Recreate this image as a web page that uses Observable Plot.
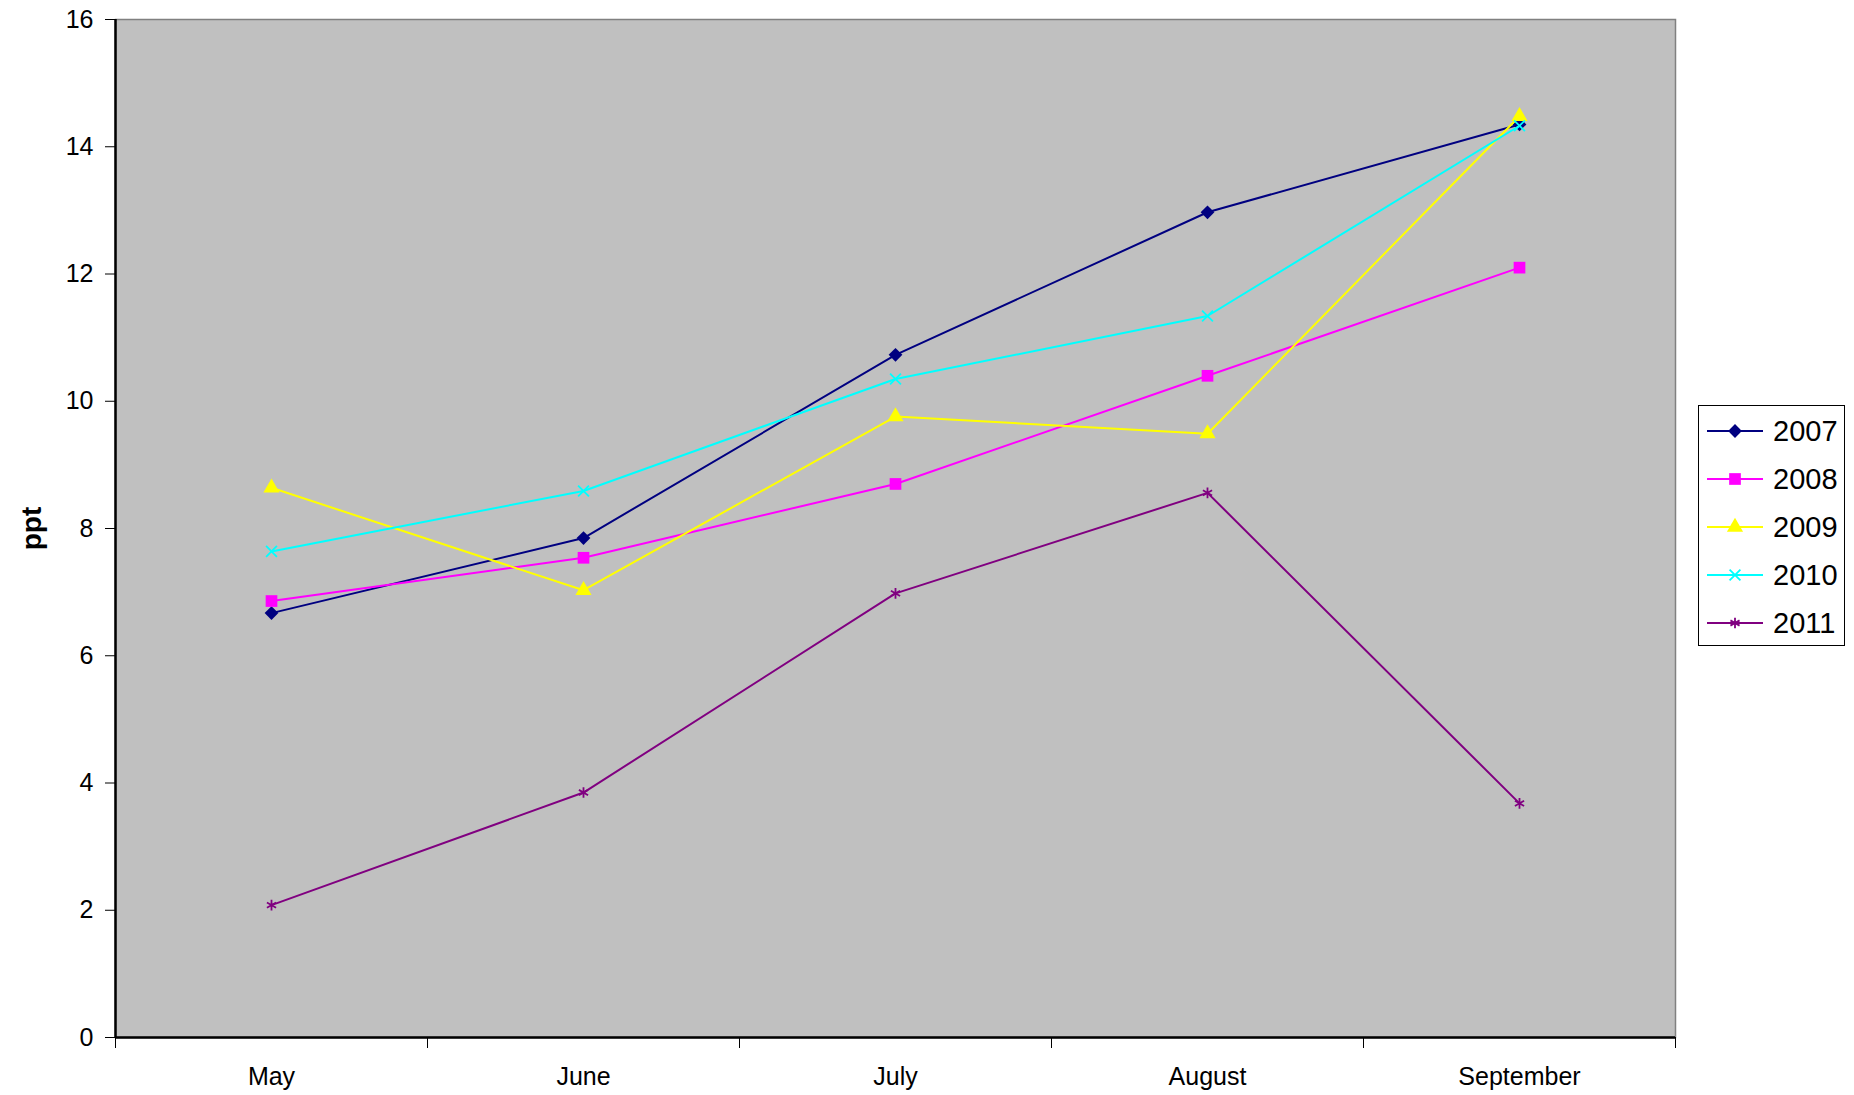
<!DOCTYPE html>
<html>
<head>
<meta charset="utf-8">
<script src="https://cdn.jsdelivr.net/npm/d3@7"></script>
<script src="https://cdn.jsdelivr.net/npm/@observablehq/plot@0.6"></script>
<style>
  html, body { margin: 0; padding: 0; background: #fff; }
  #wrap { position: relative; width: 1854px; height: 1095px; font-family: "Liberation Sans", Arial, sans-serif; }
  #legend { position: absolute; left: 1698px; top: 405px; width: 147px; height: 241px; border: 1.5px solid #000; background: #fff; box-sizing: border-box; }
  .item { position: absolute; left: 0; height: 40px; display: flex; align-items: center; }
  .item span { font-size: 29px; color: #000; margin-left: 8px; }
</style>
</head>
<body>
<div id="wrap"><div id="legend"></div></div>
<script>
const months = ["May", "June", "July", "August", "September"];
const years = ["2007", "2008", "2009", "2010", "2011"];
const v2007 = [6.67, 7.85, 10.73, 12.97, 14.35];
const v2008 = [6.86, 7.54, 8.70, 10.40, 12.10];
const v2009 = [8.64, 7.03, 9.76, 9.49, 14.48];
const v2010 = [7.64, 8.59, 10.35, 11.34, 14.33];
const v2011 = [2.08, 3.85, 6.98, 8.56, 3.68];
const yTicks = [0, 2, 4, 6, 8, 10, 12, 14, 16];

const seriesValues = [v2007, v2008, v2009, v2010, v2011];
const colors = ["#000080", "#FF00FF", "#FFFF00", "#00FFFF", "#800080"];
const symbols = ["diamond2", "square", "triangle", "times", "asterisk"];
const symRadius = [6.2, 6.6, 6, 5, 5];
const filled = [true, true, true, false, false];

const data = [];
years.forEach((yr, si) => seriesValues[si].forEach((v, mi) => data.push({year: yr, mi, month: months[mi], value: v})));

const bandEdges = d3.range(-0.5, months.length, 1);
const centers = d3.range(months.length);

const marks = [
  Plot.frame({fill: "#C0C0C0", stroke: "#808080", strokeWidth: 1.5}),
  Plot.axisY({ticks: yTicks, tickSize: 10, tickPadding: 12, fontSize: 25, label: null, stroke: "#000"}),
  Plot.axisX({ticks: bandEdges, tickSize: 11, tickFormat: () => "", label: null, stroke: "#000"}),
  Plot.axisX({ticks: centers, tickSize: 0, tickPadding: 30, tickFormat: i => months[i], fontSize: 25, label: null}),
  Plot.ruleX([-0.5], {stroke: "#000", strokeWidth: 2.5}),
  Plot.ruleY([0], {stroke: "#000", strokeWidth: 2.5}),
  Plot.text(["ppt"], {frameAnchor: "left", dx: -83, rotate: -90, fontWeight: "bold", fontSize: 28, lineAnchor: "middle", textAnchor: "middle", fill: "#000"})
];
years.forEach((yr, si) => {
  const d = data.filter(r => r.year === yr);
  marks.push(Plot.line(d, {x: "mi", y: "value", stroke: colors[si], strokeWidth: 2}));
  marks.push(Plot.dot(d, {
    x: "mi", y: "value", symbol: () => symbols[si], r: symRadius[si],
    fill: filled[si] ? colors[si] : "none",
    stroke: colors[si], strokeWidth: filled[si] ? 0 : 1.8
  }));
});

const chart = Plot.plot({
  width: 1854,
  height: 1095,
  marginLeft: 115,
  marginRight: 179,
  marginTop: 19,
  marginBottom: 58,
  style: {fontFamily: "'Liberation Sans', Arial, sans-serif", fontSize: "25px", color: "#000", background: "#fff"},
  x: {type: "linear", domain: [-0.5, months.length - 0.5], axis: null},
  y: {domain: [0, 16], axis: null},
  symbol: {type: "identity"},
  marks
});
document.getElementById("wrap").prepend(chart);
chart.style.position = "absolute";
chart.style.left = "0";
chart.style.top = "0";

// legend
const legend = document.getElementById("legend");
const symFns = {diamond2: d3.symbolDiamond2, square: d3.symbolSquare, triangle: d3.symbolTriangle, times: d3.symbolTimes, asterisk: d3.symbolAsterisk};
years.forEach((yr, si) => {
  const item = document.createElement("div");
  item.className = "item";
  item.style.top = (5 + si * 48) + "px";
  const ns = "http://www.w3.org/2000/svg";
  const svg = document.createElementNS(ns, "svg");
  svg.setAttribute("width", 66);
  svg.setAttribute("height", 40);
  const line = document.createElementNS(ns, "line");
  line.setAttribute("x1", 8); line.setAttribute("x2", 64);
  line.setAttribute("y1", 20); line.setAttribute("y2", 20);
  line.setAttribute("stroke", colors[si]); line.setAttribute("stroke-width", 2);
  svg.appendChild(line);
  const p = document.createElementNS(ns, "path");
  p.setAttribute("d", d3.symbol(symFns[symbols[si]], Math.PI * symRadius[si] ** 2)());
  p.setAttribute("transform", "translate(36,20)");
  p.setAttribute("fill", filled[si] ? colors[si] : "none");
  p.setAttribute("stroke", colors[si]);
  p.setAttribute("stroke-width", filled[si] ? 0 : 1.8);
  svg.appendChild(p);
  item.appendChild(svg);
  const t = document.createElement("span");
  t.textContent = yr;
  item.appendChild(t);
  legend.appendChild(item);
});
</script>
</body>
</html>
